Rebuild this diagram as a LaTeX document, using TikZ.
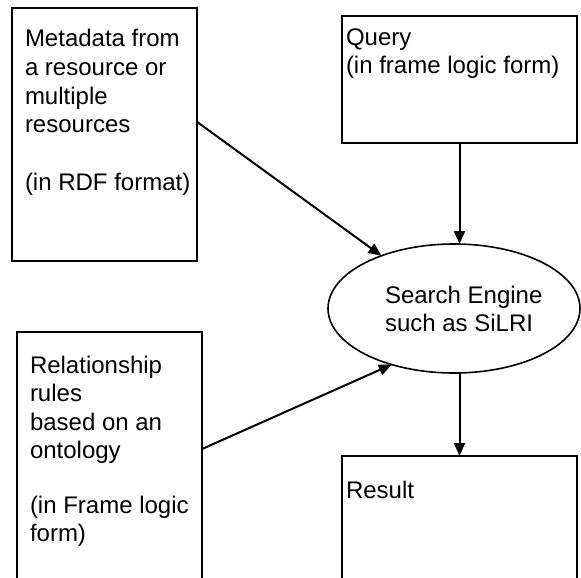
\documentclass[tikz,border=0pt]{standalone}
\usepackage{fontspec}
\setmainfont{Liberation Sans}
\usetikzlibrary{arrows.meta,shapes.geometric,calc}
\begin{document}
\begin{tikzpicture}[x=1pt,y=-1pt,
  box/.style={draw,line width=2pt,inner sep=0pt,outer sep=0pt,anchor=north west},
  lbl/.style={anchor=base west,inner sep=0pt,outer sep=0pt,font=\fontsize{24}{28.5}\selectfont},
  arr/.style={line width=2pt,-{Triangle[width=11pt,length=13pt]}}]
\useasboundingbox (0,0) rectangle (581,578);
\clip (0,0) rectangle (581,578);
\fill[white] (0,0) rectangle (581,578);
% boxes
\node[box,minimum width=185,minimum height=253] (meta) at (12,8) {};
\node[box,minimum width=235,minimum height=127] (query) at (342,16) {};
\node[box,minimum width=185,minimum height=260] (rel) at (17,332) {};
\node[box,minimum width=235,minimum height=140] (res) at (342,456) {};
\node[draw,ellipse,line width=1.6pt,inner sep=0pt,outer sep=0pt,minimum width=252,minimum height=129] (eng) at (454,308.5) {};
% texts
\node[lbl] (m1) at (25,47) {Metadata from};
\node[lbl] (m2) at (25,75.5) {a resource or};
\node[lbl] (m3) at (25,104) {multiple};
\node[lbl] (m4) at (25,132.5) {resources};
\node[lbl] (m5) at (25,190) {(in RDF format)};
\node[lbl] (q1) at (346,46) {Query};
\node[lbl] (q2) at (346,74) {(in frame logic form)};
\node[lbl] (r1) at (30,373) {Relationship};
\node[lbl] (r2) at (30,401.5) {rules};
\node[lbl] (r3) at (30,430) {based on an};
\node[lbl] (r4) at (30,458) {ontology};
\node[lbl] (r5) at (30,513) {(in Frame logic};
\node[lbl] (r6) at (30,541.5) {form)};
\node[lbl] (e1) at (385,303) {Search Engine};
\node[lbl] (e2) at (385,331) {such as SiLRI};
\node[lbl] (s1) at (346,498) {Result};
% connectors
\coordinate (ms) at ($(meta.north east)!0.45!(meta.south east)$);
\coordinate (rs) at ($(rel.north east)!0.45!(rel.south east)$);
\draw[arr] (ms) -- (eng.144);
\draw[arr] (rs) -- (eng.222.8);
\draw[arr] (query.south) -- (query.south |- eng.north);
\draw[arr] (eng.south -| res.north) -- (res.north);
\end{tikzpicture}
\end{document}
